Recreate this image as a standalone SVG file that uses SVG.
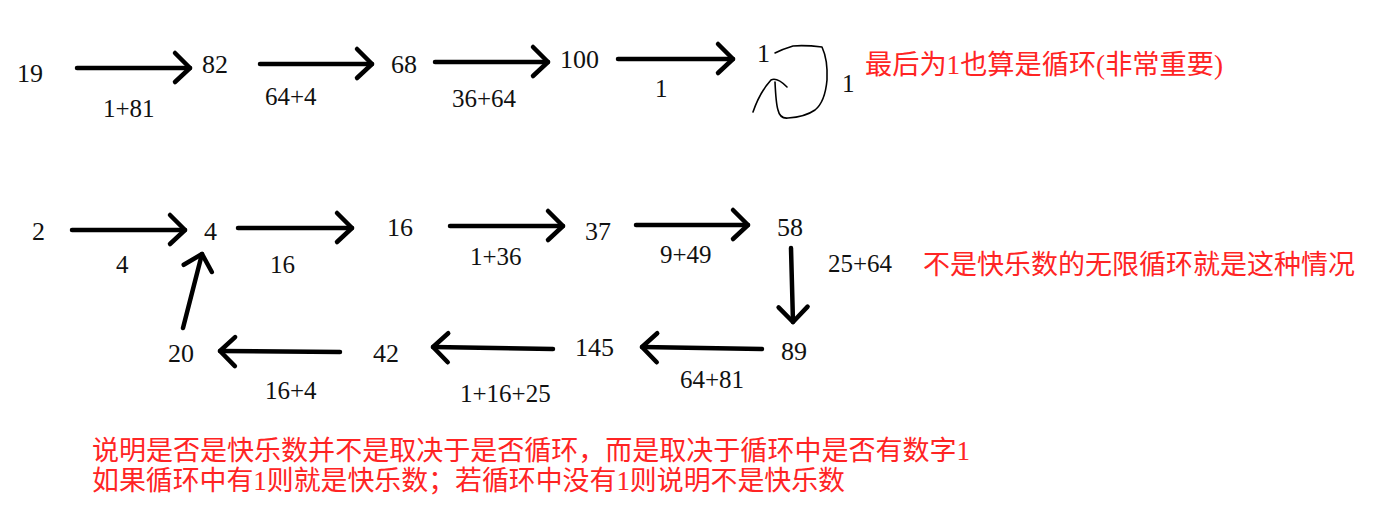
<svg xmlns="http://www.w3.org/2000/svg" width="1384" height="516" viewBox="0 0 1384 516">
<style>
.n{font-family:"Liberation Serif","Noto Sans CJK SC",serif;font-size:26px;fill:#111}
.l{font-family:"Liberation Serif","Noto Sans CJK SC",serif;font-size:25px;fill:#111}
.r{font-family:"Liberation Serif","Noto Sans CJK SC",serif;font-size:27px;fill:#ff2424}
.a{fill:none;stroke:#000;stroke-width:4.5;stroke-linecap:round;marker-end:url(#ah)}
.h{fill:none;stroke:#000;stroke-width:1.6;stroke-linecap:round;stroke-linejoin:round}
</style>
<defs>
<marker id="ah" markerUnits="userSpaceOnUse" viewBox="-20 -20 24 40" refX="0" refY="0" markerWidth="24" markerHeight="40" orient="auto" overflow="visible">
<path d="M-15,-15 L0,0 L-15,14" fill="none" stroke="#000" stroke-width="4.5" stroke-linecap="round" stroke-linejoin="round"/>
</marker>
</defs>
<rect width="1384" height="516" fill="#fff"/>
<g id="connectors">
<path class="a" d="M77,68 L190,68"/>
<path class="a" d="M260,64 L372,64"/>
<path class="a" d="M435,62 L548,62"/>
<path class="a" d="M618,59 L733,59"/>
<path class="a" d="M72,230 L185,230"/>
<path class="a" d="M238,228 L352,228"/>
<path class="a" d="M450,226 L563,226"/>
<path class="a" d="M636,225 L748,225"/>
<path class="a" d="M791,248 L793,322"/>
<path class="a" d="M762,349 L642,347"/>
<path class="a" d="M553,349 L433,347"/>
<path class="a" d="M340,352 L220,351"/>
<path class="a" d="M183,328 L202,254"/>
<path class="h" d="M753,112 Q760,92 771,80 Q777,77 787,87"/>
<path class="h" d="M775,82 Q776,104 778,110 Q780,119 788,118 Q805,117 815,110 Q825,102 827,80 Q828,60 822,47 Q805,45 793,46 Q783,49 775,53"/>
<text class="l" x="103" y="117">1+81</text>
<text class="l" x="265" y="105">64+4</text>
<text class="l" x="452" y="107">36+64</text>
<text class="l" x="655" y="97">1</text>
<text class="l" x="842" y="92">1</text>
<text class="l" x="116" y="273">4</text>
<text class="l" x="270" y="273">16</text>
<text class="l" x="470" y="265">1+36</text>
<text class="l" x="660" y="263">9+49</text>
<text class="l" x="828" y="272">25+64</text>
<text class="l" x="265" y="399">16+4</text>
<text class="l" x="460" y="402">1+16+25</text>
<text class="l" x="680" y="388">64+81</text>
</g>
<g id="n19"><text class="n" x="17" y="82">19</text></g>
<g id="n82"><text class="n" x="202" y="73">82</text></g>
<g id="n68"><text class="n" x="391" y="73">68</text></g>
<g id="n100"><text class="n" x="560" y="68">100</text></g>
<g id="n1"><text class="n" x="757" y="62">1</text></g>
<g id="n2"><text class="n" x="32" y="240">2</text></g>
<g id="n4"><text class="n" x="204" y="240">4</text></g>
<g id="n16"><text class="n" x="387" y="236">16</text></g>
<g id="n37"><text class="n" x="585" y="240">37</text></g>
<g id="n58"><text class="n" x="777" y="236">58</text></g>
<g id="n89"><text class="n" x="781" y="360">89</text></g>
<g id="n145"><text class="n" x="575" y="356">145</text></g>
<g id="n42"><text class="n" x="373" y="362">42</text></g>
<g id="n20"><text class="n" x="168" y="362">20</text></g>
<g id="note1"><text class="r" x="865" y="74" textLength="358" lengthAdjust="spacingAndGlyphs">最后为1也算是循环(非常重要)</text></g>
<g id="note2"><text class="r" x="923" y="274" textLength="432" lengthAdjust="spacingAndGlyphs">不是快乐数的无限循环就是这种情况</text></g>
<g id="note3">
<text class="r" x="92" y="460" textLength="878" lengthAdjust="spacingAndGlyphs">说明是否是快乐数并不是取决于是否循环，而是取决于循环中是否有数字1</text>
<text class="r" x="92" y="490" textLength="753" lengthAdjust="spacingAndGlyphs">如果循环中有1则就是快乐数；若循环中没有1则说明不是快乐数</text>
</g>
</svg>
